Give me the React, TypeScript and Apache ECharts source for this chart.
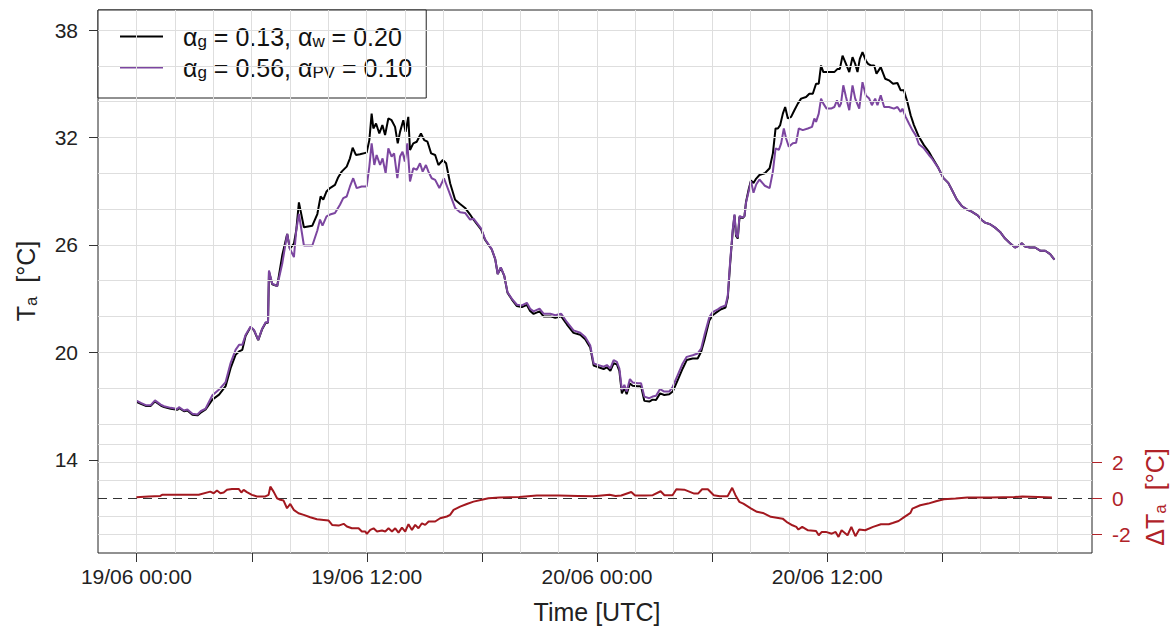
import React, { useEffect, useRef } from 'react';
import * as echarts from 'echarts';

const FONT = "'Liberation Sans', Arial, Helvetica, sans-serif";
const RED_LINE = '#a3181f';
const RED_TXT = '#b02228';
const PURPLE = '#7c46a0';
const GRID_COLOR = '#dedede';
const AXIS_COLOR = '#333333';

const seriesNames = ['αg = 0.13, αw = 0.20', 'αg = 0.56, αPV = 0.10', 'ΔTa'];
const legendRich = [
  '{sp| }{n|α}{s|g}{n| = 0.13, α}{s|w}{n| = 0.20}',
  '{sp| }{n|α}{s|g}{n| = 0.56, α}{s|PV}{n| = 0.10}',
];

// x axis (hours since 19/06 00:00 UTC)
const xMin = -2;
const xMax = 49.8;
const xTickHours = [0, 6, 12, 18, 24, 30, 36, 42];
const xLabelHours = [0, 12, 24, 36];
const xLabels = ['19/06 00:00', '19/06 12:00', '20/06 00:00', '20/06 12:00'];
const xGridHours = [0, 2, 4, 6, 8, 10, 12, 14, 16, 18, 20, 22, 24, 26, 28, 30, 32, 34, 36, 38, 40, 42, 44, 46, 48];

// left axis: Ta
const taMin = 8.78;
const taMax = 39.12;
const taTicks = [14, 20, 26, 32, 38];
const taGrid = [16, 18, 20, 22, 24, 26, 28, 30, 32, 34, 36, 38];

// right axis: delta Ta
const dtMin = -3.06;
const dtMax = 27.28;
const dtTicks = [-2, 0, 2];
const dtGrid = [-2, -1, 1, 2, 3];

// alpha_g = 0.13, alpha_w = 0.20
const blackTa: [number, number][] = [
  [0, 17.22], [0.23, 17.12], [0.49, 17.0], [0.75, 17.0], [0.97, 17.25], [1.27, 17.02], [1.44, 16.93],
  [1.79, 16.84], [2.14, 16.78], [2.22, 16.88], [2.48, 16.7], [2.66, 16.74], [2.92, 16.5], [3.18, 16.47],
  [3.35, 16.62], [3.61, 16.8], [3.96, 17.35], [4.31, 17.63], [4.65, 18.1], [4.91, 19.11], [5.17, 19.85],
  [5.35, 20.04], [5.52, 20.13], [5.69, 20.9], [5.95, 21.4], [6.13, 21.22], [6.35, 20.67], [6.56, 21.3],
  [6.74, 21.65], [6.86, 21.65], [6.91, 24.5], [7.08, 23.8], [7.34, 23.7], [7.6, 25.4], [7.86, 26.61],
  [8.0, 25.78], [8.21, 26.06], [8.33, 26.8], [8.47, 28.37], [8.73, 26.98], [9.17, 27.07], [9.43, 27.72],
  [9.6, 28.7], [9.74, 28.52], [9.91, 28.98], [10.09, 29.17], [10.35, 29.35], [10.52, 29.78], [10.7, 30.09],
  [10.96, 30.37], [11.13, 30.83], [11.27, 31.43], [11.44, 31.02], [11.65, 31.06], [12.0, 31.15], [12.14, 31.85],
  [12.26, 33.33], [12.35, 32.5], [12.49, 32.78], [12.66, 32.22], [12.82, 32.69], [12.96, 32.13], [13.13, 33.06],
  [13.3, 32.96], [13.48, 32.59], [13.62, 31.67], [13.74, 32.31], [13.91, 32.96], [14.03, 32.31], [14.17, 33.15],
  [14.26, 31.3], [14.43, 31.67], [14.61, 31.76], [14.83, 32.22], [15.0, 31.85], [15.17, 31.76], [15.36, 31.11],
  [15.57, 31.02], [15.74, 30.46], [15.97, 30.74], [16.14, 30.56], [16.35, 29.44], [16.61, 28.52], [16.87, 28.28],
  [17.13, 28.06], [17.39, 27.69], [17.57, 27.4], [17.97, 26.85], [18.17, 26.28], [18.52, 25.74], [18.7, 25.2],
  [18.83, 24.37], [18.99, 24.72], [19.17, 24.27], [19.34, 23.33], [19.57, 22.94], [19.83, 22.58], [20.09, 22.52],
  [20.35, 22.64], [20.52, 22.3], [20.7, 22.14], [21.01, 22.28], [21.22, 22.0], [21.57, 22.0], [21.83, 21.92],
  [22.14, 22.0], [22.43, 21.56], [22.78, 21.08], [23.13, 20.97], [23.39, 20.72], [23.65, 20.27], [23.83, 19.25],
  [24.09, 19.16], [24.35, 19.06], [24.52, 19.15], [24.7, 18.96], [24.87, 19.38], [25.04, 19.32], [25.17, 18.95],
  [25.3, 17.7], [25.43, 18.0], [25.55, 17.65], [25.72, 18.25], [25.86, 18.13], [26.12, 18.1], [26.3, 18.1],
  [26.47, 17.28], [26.73, 17.24], [26.9, 17.35], [27.08, 17.33], [27.29, 17.7], [27.51, 17.61], [27.77, 17.65],
  [27.95, 17.8], [28.21, 18.44], [28.47, 19.09], [28.68, 19.56], [28.99, 19.65], [29.25, 19.65], [29.43, 20.02],
  [29.6, 20.67], [29.86, 21.78], [30.03, 22.06], [30.3, 22.28], [30.47, 22.4], [30.7, 22.5], [30.82, 23.05],
  [30.94, 24.9], [31.08, 26.8], [31.17, 27.65], [31.25, 26.5], [31.34, 26.35], [31.43, 27.55], [31.6, 27.5],
  [31.69, 27.6], [31.77, 28.4], [31.91, 29.1], [32.03, 29.6], [32.16, 29.45], [32.3, 29.7], [32.47, 29.9],
  [32.75, 30.0], [33.0, 30.28], [33.17, 31.11], [33.31, 32.5], [33.43, 32.5], [33.55, 32.69], [33.69, 33.33],
  [33.81, 33.7], [33.95, 33.06], [34.12, 33.15], [34.29, 33.52], [34.47, 33.89], [34.64, 34.17], [34.9, 34.26],
  [35.07, 34.44], [35.25, 34.44], [35.42, 35.0], [35.56, 35.0], [35.68, 36.02], [35.8, 35.65], [36.11, 35.65],
  [36.37, 35.65], [36.54, 35.83], [36.66, 35.83], [36.8, 36.57], [36.98, 36.11], [37.15, 35.65], [37.32, 36.48],
  [37.46, 36.11], [37.58, 35.65], [37.7, 36.39], [37.84, 36.76], [38.01, 36.3], [38.13, 36.11], [38.27, 36.02],
  [38.45, 36.02], [38.57, 35.56], [38.79, 35.93], [39.02, 35.28], [39.22, 35.19], [39.43, 35.0], [39.66, 35.04],
  [39.83, 34.63], [40.0, 34.63], [40.18, 33.98], [40.35, 33.24], [40.52, 32.69], [40.75, 32.1], [41.04, 31.57],
  [41.3, 31.2], [41.44, 30.94], [41.79, 30.3], [42.05, 29.74], [42.31, 29.46], [42.49, 29.09], [42.75, 28.54],
  [43.01, 28.17], [43.27, 27.98], [43.53, 27.85], [43.84, 27.65], [44.05, 27.39], [44.23, 27.24], [44.49, 27.15],
  [44.75, 26.96], [45.01, 26.72], [45.27, 26.35], [45.53, 26.09], [45.79, 25.85], [45.97, 25.94], [46.14, 26.09],
  [46.31, 25.91], [46.57, 25.85], [46.83, 25.85], [47.1, 25.67], [47.36, 25.67], [47.62, 25.48], [47.84, 25.17],
];

// alpha_g = 0.56, alpha_PV = 0.10
const purpleTa: [number, number][] = [
  [0, 17.3], [0.23, 17.17], [0.49, 17.04], [0.75, 17.04], [0.97, 17.31], [1.27, 17.07], [1.44, 16.98],
  [1.79, 16.89], [2.14, 16.83], [2.22, 16.93], [2.48, 16.74], [2.66, 16.8], [2.92, 16.56], [3.18, 16.52],
  [3.35, 16.7], [3.61, 16.85], [3.96, 17.59], [4.31, 17.91], [4.65, 18.33], [4.91, 19.39], [5.17, 20.13],
  [5.35, 20.41], [5.52, 20.41], [5.69, 20.96], [5.95, 21.43], [6.13, 21.24], [6.35, 20.69], [6.56, 21.33],
  [6.74, 21.67], [6.86, 21.67], [6.91, 24.57], [7.08, 23.83], [7.34, 23.7], [7.6, 24.94], [7.86, 26.61],
  [8.0, 25.78], [8.21, 25.31], [8.33, 26.8], [8.47, 27.72], [8.73, 25.96], [9.17, 25.96], [9.43, 26.8],
  [9.57, 27.41], [9.7, 27.07], [9.91, 27.59], [10.09, 27.69], [10.35, 27.78], [10.61, 28.24], [10.78, 28.61],
  [10.96, 28.7], [11.13, 29.26], [11.3, 29.72], [11.48, 29.17], [11.74, 29.26], [12.0, 29.26], [12.14, 30.37],
  [12.26, 31.67], [12.4, 30.46], [12.52, 31.02], [12.7, 30.46], [12.83, 30.83], [12.99, 30.0], [13.13, 31.39],
  [13.3, 30.93], [13.43, 31.11], [13.6, 29.72], [13.74, 30.93], [13.87, 31.2], [13.99, 30.65], [14.12, 31.67],
  [14.26, 29.54], [14.43, 30.28], [14.61, 30.19], [14.78, 30.56], [14.92, 30.09], [15.09, 30.46], [15.22, 30.09],
  [15.39, 29.72], [15.57, 29.63], [15.79, 29.17], [16.03, 29.72], [16.35, 28.8], [16.61, 28.06], [16.87, 27.82],
  [17.13, 27.78], [17.39, 27.41], [17.57, 27.46], [17.97, 26.91], [18.17, 26.31], [18.52, 25.76], [18.7, 25.2],
  [18.83, 24.37], [18.99, 24.74], [19.17, 24.28], [19.34, 23.35], [19.57, 22.98], [19.83, 22.65], [20.09, 22.61],
  [20.35, 22.76], [20.52, 22.43], [20.7, 22.28], [21.01, 22.43], [21.22, 22.15], [21.57, 22.15], [21.83, 22.06],
  [22.14, 22.15], [22.43, 21.69], [22.78, 21.22], [23.13, 21.09], [23.39, 20.85], [23.65, 20.39], [23.83, 19.37],
  [24.09, 19.28], [24.35, 19.19], [24.52, 19.28], [24.7, 19.09], [24.87, 19.56], [25.04, 19.46], [25.17, 19.09],
  [25.3, 17.89], [25.43, 18.17], [25.55, 17.8], [25.72, 18.5], [25.86, 18.31], [26.12, 18.26], [26.3, 18.26],
  [26.47, 17.52], [26.73, 17.43], [26.9, 17.52], [27.08, 17.57], [27.29, 17.94], [27.51, 17.8], [27.77, 17.8],
  [27.95, 18.07], [28.21, 18.72], [28.47, 19.37], [28.68, 19.74], [28.99, 19.83], [29.25, 19.93], [29.43, 20.2],
  [29.6, 20.94], [29.86, 21.96], [30.03, 22.24], [30.3, 22.39], [30.47, 22.52], [30.7, 22.61], [30.82, 23.17],
  [30.94, 25.02], [31.08, 26.87], [31.17, 27.7], [31.25, 26.59], [31.34, 26.41], [31.43, 27.61], [31.6, 27.52],
  [31.69, 27.61], [31.77, 28.35], [31.91, 29.0], [32.03, 29.56], [32.16, 28.91], [32.3, 29.37], [32.47, 29.65],
  [32.75, 29.3], [33.0, 29.17], [33.17, 30.09], [33.31, 31.39], [33.48, 31.3], [33.6, 31.67], [33.74, 32.5],
  [33.86, 31.94], [34.0, 31.48], [34.21, 31.67], [34.38, 31.7], [34.52, 32.5], [34.73, 32.41], [34.99, 32.5],
  [35.21, 32.59], [35.33, 33.06], [35.42, 32.87], [35.56, 33.33], [35.68, 34.17], [35.8, 33.89], [35.97, 33.61],
  [36.2, 33.61], [36.37, 33.7], [36.51, 34.07], [36.63, 33.7], [36.72, 33.89], [36.84, 34.91], [36.98, 34.26],
  [37.15, 33.52], [37.32, 34.91], [37.46, 34.17], [37.67, 33.61], [37.84, 35.09], [38.01, 34.35], [38.19, 34.17],
  [38.33, 33.8], [38.5, 34.17], [38.62, 33.8], [38.79, 34.35], [38.97, 33.7], [39.22, 33.7], [39.48, 33.61],
  [39.66, 33.7], [39.83, 33.43], [39.92, 33.61], [40.09, 33.15], [40.26, 32.78], [40.44, 32.41], [40.61, 32.13],
  [40.78, 31.62], [41.04, 31.39], [41.3, 31.02], [41.44, 30.85], [41.79, 30.3], [42.05, 29.74], [42.31, 29.46],
  [42.49, 29.09], [42.75, 28.54], [43.01, 28.17], [43.27, 27.98], [43.53, 27.85], [43.84, 27.65], [44.05, 27.39],
  [44.23, 27.24], [44.49, 27.15], [44.75, 26.96], [45.01, 26.72], [45.27, 26.35], [45.53, 26.09], [45.79, 25.85],
  [45.97, 25.94], [46.14, 26.09], [46.31, 25.91], [46.57, 25.85], [46.83, 25.85], [47.1, 25.67], [47.36, 25.67],
  [47.62, 25.48], [47.84, 25.17],
];

// delta Ta (right axis)
const deltaTa: [number, number][] = [
  [0, 0.05], [0.64, 0.1], [1.25, 0.13], [1.34, 0.19], [2.0, 0.19], [3.25, 0.19], [3.85, 0.37], [4.03, 0.28],
  [4.2, 0.43], [4.38, 0.28], [4.55, 0.32], [4.72, 0.47], [4.98, 0.52], [5.33, 0.52], [5.47, 0.32], [5.59, 0.47],
  [5.76, 0.34], [6.02, 0.19], [6.28, 0.1], [6.72, 0.1], [6.89, 0.19], [6.98, 0.65], [7.15, 0.37], [7.33, 0.0],
  [7.5, -0.09], [7.67, -0.13], [7.85, -0.56], [8.02, -0.32], [8.2, -0.65], [8.45, -0.84], [8.72, -0.93],
  [9.06, -1.06], [9.41, -1.17], [9.76, -1.21], [10.02, -1.25], [10.2, -1.49], [10.54, -1.53], [10.8, -1.43],
  [10.97, -1.58], [11.23, -1.68], [11.58, -1.68], [11.75, -1.86], [11.93, -1.86], [12.01, -1.99], [12.19, -1.77],
  [12.36, -1.68], [12.54, -1.86], [12.8, -1.8], [12.97, -1.86], [13.14, -1.68], [13.32, -1.86], [13.49, -1.68],
  [13.66, -1.92], [13.84, -1.64], [14.01, -1.86], [14.18, -1.45], [14.36, -1.77], [14.53, -1.49], [14.7, -1.68],
  [14.88, -1.4], [15.05, -1.49], [15.23, -1.3], [15.57, -1.3], [15.83, -1.12], [16.18, -1.02], [16.35, -0.93],
  [16.53, -0.65], [16.87, -0.47], [17.22, -0.32], [17.57, -0.19], [18.0, -0.09], [18.35, 0.0], [18.92, 0.04],
  [19.95, 0.07], [20.87, 0.15], [22.0, 0.15], [23.02, 0.13], [23.84, 0.11], [24.66, 0.19], [24.97, 0.13],
  [25.27, 0.15], [25.79, 0.35], [25.99, 0.15], [26.5, 0.15], [26.91, 0.17], [27.32, 0.39], [27.52, 0.17],
  [27.94, 0.17], [28.14, 0.5], [28.55, 0.48], [29.07, 0.26], [29.27, 0.26], [29.48, 0.5], [29.78, 0.5],
  [30.09, 0.17], [30.4, 0.11], [30.81, 0.11], [31.05, 0.58], [31.22, 0.17], [31.42, -0.2], [31.63, -0.3],
  [32.04, -0.58], [32.34, -0.76], [32.65, -0.82], [33.06, -1.04], [33.68, -1.14], [33.88, -1.32], [34.19, -1.51],
  [34.39, -1.6], [34.5, -1.75], [34.7, -1.6], [35.0, -1.79], [35.42, -1.83], [35.56, -2.07], [35.72, -1.88],
  [35.93, -1.88], [36.24, -1.98], [36.44, -1.88], [36.59, -2.16], [36.75, -1.79], [37.06, -2.07], [37.26, -1.6],
  [37.47, -2.12], [37.67, -1.75], [37.98, -1.79], [38.39, -1.6], [38.8, -1.45], [39.21, -1.45], [39.41, -1.38],
  [39.72, -1.27], [40.03, -1.04], [40.34, -0.82], [40.44, -0.58], [40.85, -0.39], [41.26, -0.3], [41.67, -0.17],
  [42.08, -0.06], [42.69, -0.02], [43.3, 0.04], [44.53, 0.04], [45.76, 0.07], [46.17, 0.09], [46.99, 0.07],
  [47.71, 0.04],
];

const richBase = (size: number, color: string) => ({
  n: { fontSize: size, fontFamily: FONT, fill: color, color },
  s: { fontSize: Math.round(size * 0.68), fontFamily: FONT, fill: color, color, padding: [10, 0, 0, 0] },
});

export default function App() {
  const ref = useRef<HTMLDivElement>(null);

  useEffect(() => {
    if (!ref.current) return;
    const chart = echarts.init(ref.current, null, { renderer: 'svg' });

    const gridLine = { color: GRID_COLOR, width: 1, type: 'solid' as const };

    const titles: any[] = [
      {
        type: 'text', x: 26, y: 281, rotation: Math.PI / 2, silent: true,
        style: { text: '{n|T}{s|a}{n|  [°C]}', rich: richBase(25, '#222'), align: 'center', verticalAlign: 'middle' },
      },
      {
        type: 'text', x: 1155, y: 497, rotation: Math.PI / 2, silent: true,
        style: { text: '{n|ΔT}{s|a}{n|  [°C]}', rich: richBase(25, RED_TXT), align: 'center', verticalAlign: 'middle' },
      },
      {
        type: 'text', x: 597, y: 612, silent: true,
        style: { text: 'Time [UTC]', fontSize: 25, fontFamily: FONT, fill: '#222', align: 'center', verticalAlign: 'middle' },
      },
    ];

    const option: any = {
      animation: false,
      backgroundColor: '#ffffff',
      grid: {
        left: 98, right: 78, top: 10, bottom: 74,
        show: true, borderColor: '#222', borderWidth: 1, backgroundColor: 'transparent',
      },
      legend: {
        data: seriesNames.slice(0, 2),
        orient: 'vertical',
        left: 98,
        top: 10,
        padding: [14, 14, 17, 22],
        itemGap: 5,
        itemWidth: 43,
        itemHeight: 2,
        icon: 'rect',
        backgroundColor: '#ffffff',
        borderColor: '#222',
        borderWidth: 1,
        borderRadius: 0,
        selectedMode: false,
        formatter: (name: string) => legendRich[seriesNames.indexOf(name)],
        textStyle: {
          fontFamily: FONT, fontSize: 25, color: '#111',
          rich: {
            n: { fontSize: 25, fontFamily: FONT, color: '#111' },
            s: { fontSize: 17, fontFamily: FONT, color: '#111', padding: [10, 0, 0, 0] },
            sp: { width: 15 },
          },
        },
      },
      xAxis: [{
        type: 'value', min: xMin, max: xMax,
        axisLine: { show: false },
        splitLine: { show: false },
        axisTick: { show: false },
        axisLabel: {
          customValues: xLabelHours, margin: 13, fontSize: 21, fontFamily: FONT, color: '#222',
          formatter: (v: number) => xLabels[xLabelHours.indexOf(v)] ?? '',
        },
      }],
      yAxis: [
        {
          type: 'value', position: 'left', min: taMin, max: taMax,
          axisLine: { show: false }, splitLine: { show: false }, axisTick: { show: false },
          axisLabel: { customValues: taTicks, margin: 20, fontSize: 21, fontFamily: FONT, color: '#222' },
        },
        {
          type: 'value', position: 'right', min: dtMin, max: dtMax,
          axisLine: { show: false }, splitLine: { show: false }, axisTick: { show: false },
          axisLabel: { customValues: dtTicks, margin: 20, fontSize: 21, fontFamily: FONT, color: RED_TXT },
        },
      ],
      graphic: titles,
      series: [
        {
          name: 'gridlines-x', type: 'line', data: [], xAxisIndex: 0, yAxisIndex: 0, z: 1, silent: true,
          markLine: { silent: true, symbol: ['none', 'none'], label: { show: false }, lineStyle: gridLine,
            data: xGridHours.map((h) => ({ xAxis: h })) },
        },
        {
          name: 'gridlines-ta', type: 'line', data: [], xAxisIndex: 0, yAxisIndex: 0, z: 1, silent: true,
          markLine: { silent: true, symbol: ['none', 'none'], label: { show: false }, lineStyle: gridLine,
            data: taGrid.map((v) => ({ yAxis: v })) },
        },
        {
          name: 'gridlines-dt', type: 'line', data: [], xAxisIndex: 0, yAxisIndex: 1, z: 1, silent: true,
          markLine: { silent: true, symbol: ['none', 'none'], label: { show: false }, lineStyle: gridLine,
            data: dtGrid.map((v) => ({ yAxis: v })) },
        },
        {
          name: 'zero-line', type: 'line', data: [], xAxisIndex: 0, yAxisIndex: 1, z: 2, silent: true,
          markLine: { silent: true, symbol: ['none', 'none'], label: { show: false },
            lineStyle: { color: '#333', width: 1.2, type: [9, 6] },
            data: [{ yAxis: 0 }] },
        },
        {
          name: seriesNames[0], type: 'line', data: blackTa, xAxisIndex: 0, yAxisIndex: 0, z: 3,
          showSymbol: false, symbol: 'none', color: '#000000',
          lineStyle: { color: '#000000', width: 2 },
        },
        {
          name: seriesNames[1], type: 'line', data: purpleTa, xAxisIndex: 0, yAxisIndex: 0, z: 4,
          showSymbol: false, symbol: 'none', color: PURPLE,
          lineStyle: { color: PURPLE, width: 2 },
        },
        {
          name: seriesNames[2], type: 'line', data: deltaTa, xAxisIndex: 0, yAxisIndex: 1, z: 5,
          showSymbol: false, symbol: 'none', color: RED_LINE,
          lineStyle: { color: RED_LINE, width: 2 },
        },
      ],
    };

    chart.setOption(option);

    // tick marks placed through the chart's own scales
    const px = (v: number) => chart.convertToPixel({ xAxisIndex: 0 }, v) as number;
    const pyL = (v: number) => chart.convertToPixel({ yAxisIndex: 0 }, v) as number;
    const pyR = (v: number) => chart.convertToPixel({ yAxisIndex: 1 }, v) as number;
    const left = px(xMin);
    const right = px(xMax);
    const bottom = pyL(taMin);
    const tick = (x1: number, y1: number, x2: number, y2: number, color: string) => ({
      type: 'line', silent: true, z: 10,
      shape: { x1, y1, x2, y2 },
      style: { stroke: color, lineWidth: 1 },
    });
    const ticks: any[] = [
      ...xTickHours.map((h) => tick(Math.round(px(h)) + 0.5, bottom, Math.round(px(h)) + 0.5, bottom + 9, AXIS_COLOR)),
      ...taTicks.map((v) => tick(left - 9, Math.round(pyL(v)) + 0.5, left, Math.round(pyL(v)) + 0.5, AXIS_COLOR)),
      ...dtTicks.map((v) => tick(right, Math.round(pyR(v)) + 0.5, right + 10, Math.round(pyR(v)) + 0.5, RED_TXT)),
    ];
    chart.setOption({ graphic: [...titles, ...ticks] });

    return () => chart.dispose();
  }, []);

  return (
    <div
      ref={ref}
      style={{ position: 'fixed', left: 0, top: 0, width: 1170, height: 627, background: '#fff' }}
    />
  );
}
